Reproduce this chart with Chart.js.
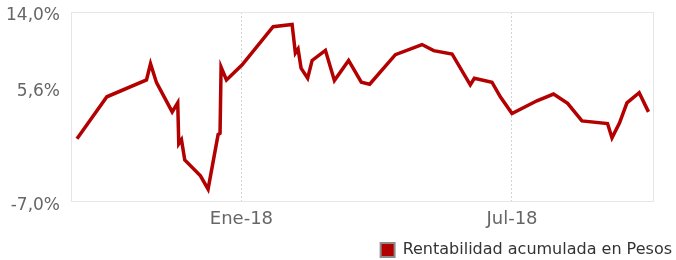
<!DOCTYPE html>
<html>
<head>
<meta charset="utf-8">
<script src="https://cdn.jsdelivr.net/npm/chart.js@4/dist/chart.umd.min.js"></script>
<style>
	html, body { margin: 0; padding: 0; background: #fff; }
	#wrap { width: 676px; height: 260px; position: relative; }
</style>
</head>
<body>
<div id="wrap"><canvas id="chart"></canvas></div>
<script>
	/* days counted from 1 Jan 2018, returns in % */
	const days = [-110, -90, -63.5, -60.8, -56.8, -46.3, -42.6, -41.9, -40.1, -37.9, -27.4, -22.3, -15.6, -14.3, -13.6, -10,
		0.5, 21.2, 33.9, 36.1, 37.9, 39.9, 44.3, 47.3, 56.2, 62.2, 71.7, 80.2, 85.8, 103, 120.8, 128.6, 140.9,
		153.1, 155.8, 167.6, 173.2, 181, 197.7, 208.8, 218.2, 227.8, 244.9, 247.9, 252.9, 257.9, 266.1, 272.3];
	const returns = [0.0, 4.63, 6.49, 8.28, 6.19, 2.96, 3.96, -0.56, -0.12, -2.35, -4.10, -5.58, 0.45, 0.6, 7.91, 6.49,
		8.17, 12.37, 12.63, 9.47, 9.92, 7.80, 6.68, 8.65, 9.76, 6.42, 8.65, 6.24, 6.02, 9.28, 10.40, 9.73, 9.36,
		5.94, 6.68, 6.24, 4.63, 2.78, 4.19, 4.93, 3.90, 1.96, 1.67, 0.10, 1.73, 3.96, 5.08, 2.96];
	const tick_days = [0, 181];
	const tick_labels = ['Ene-18', 'Jul-18'];
	const y_ticks = [-7, 5.6, 14];
	const series_name = 'Rentabilidad acumulada en Pesos';

	const points = days.map((d, i) => ({ x: d, y: returns[i] }));

	// light frame round the plot area
	const frame_plugin = {
		id: 'frame',
		afterDraw(chart) {
			let a = chart.chartArea, ctx = chart.ctx;
			ctx.save();
			ctx.strokeStyle = '#e6e6e6';
			ctx.lineWidth = 1;
			ctx.strokeRect(a.left + 0.5, a.top + 0.5, a.right - a.left - 1, a.bottom - a.top - 1);
			ctx.restore();
		}
	};

	new Chart(document.getElementById('chart'), {
		type: 'line',
		data: {
			datasets: [{
				label: series_name,
				data: points,
				borderColor: '#b30000',
				backgroundColor: '#b30000',
				borderWidth: 3.5,
				pointRadius: 0,
				tension: 0,
				fill: false
			}]
		},
		options: {
			responsive: true,
			maintainAspectRatio: false,
			animation: false,
			layout: { padding: { top: 12, right: 0, bottom: -8, left: 0 } },
			plugins: {
				tooltip: { enabled: false },
				legend: {
					position: 'bottom',
					align: 'end',
					labels: {
						color: '#333',
						font: { family: 'DejaVu Sans', size: 16 },
						boxWidth: 14,
						boxHeight: 14,
						padding: 4,
						generateLabels: () => [{
							text: series_name,
							fillStyle: '#b30000',
							strokeStyle: '#8c8c8c',
							lineWidth: 2,
							fontColor: '#333'
						}]
					}
				}
			},
			scales: {
				x: {
					type: 'linear',
					min: -114,
					max: 276,
					afterBuildTicks: axis => { axis.ticks = tick_days.map(v => ({ value: v })); },
					afterFit: axis => { axis.height = 36; },
					grid: { color: '#d2d2d2', drawTicks: false },
					border: { display: false, dash: [2, 2] },
					ticks: {
						color: '#666',
						padding: 7,
						maxRotation: 0,
						font: { family: 'DejaVu Sans', size: 18 },
						callback: v => tick_labels[tick_days.indexOf(v)] || ''
					}
				},
				y: {
					min: -7,
					max: 14,
					afterBuildTicks: axis => { axis.ticks = y_ticks.map(v => ({ value: v })); },
					afterFit: axis => { axis.width = 71; axis.paddingTop = 0; axis.paddingBottom = 0; },
					grid: { display: false, drawTicks: false },
					border: { display: false },
					ticks: {
						color: '#666',
						padding: 11,
						labelOffset: 4,
						font: { family: 'DejaVu Sans', size: 17 },
						callback: v => v.toFixed(1).replace('.', ',') + '%'
					}
				},
				// empty strip on the right, keeps the legend free to reach the edge
				y_right: {
					position: 'right',
					afterFit: axis => { axis.width = 22; axis.paddingTop = 0; axis.paddingBottom = 0; },
					grid: { display: false, drawTicks: false },
					border: { display: false },
					ticks: { display: false }
				}
			}
		},
		plugins: [frame_plugin]
	});
</script>
</body>
</html>
